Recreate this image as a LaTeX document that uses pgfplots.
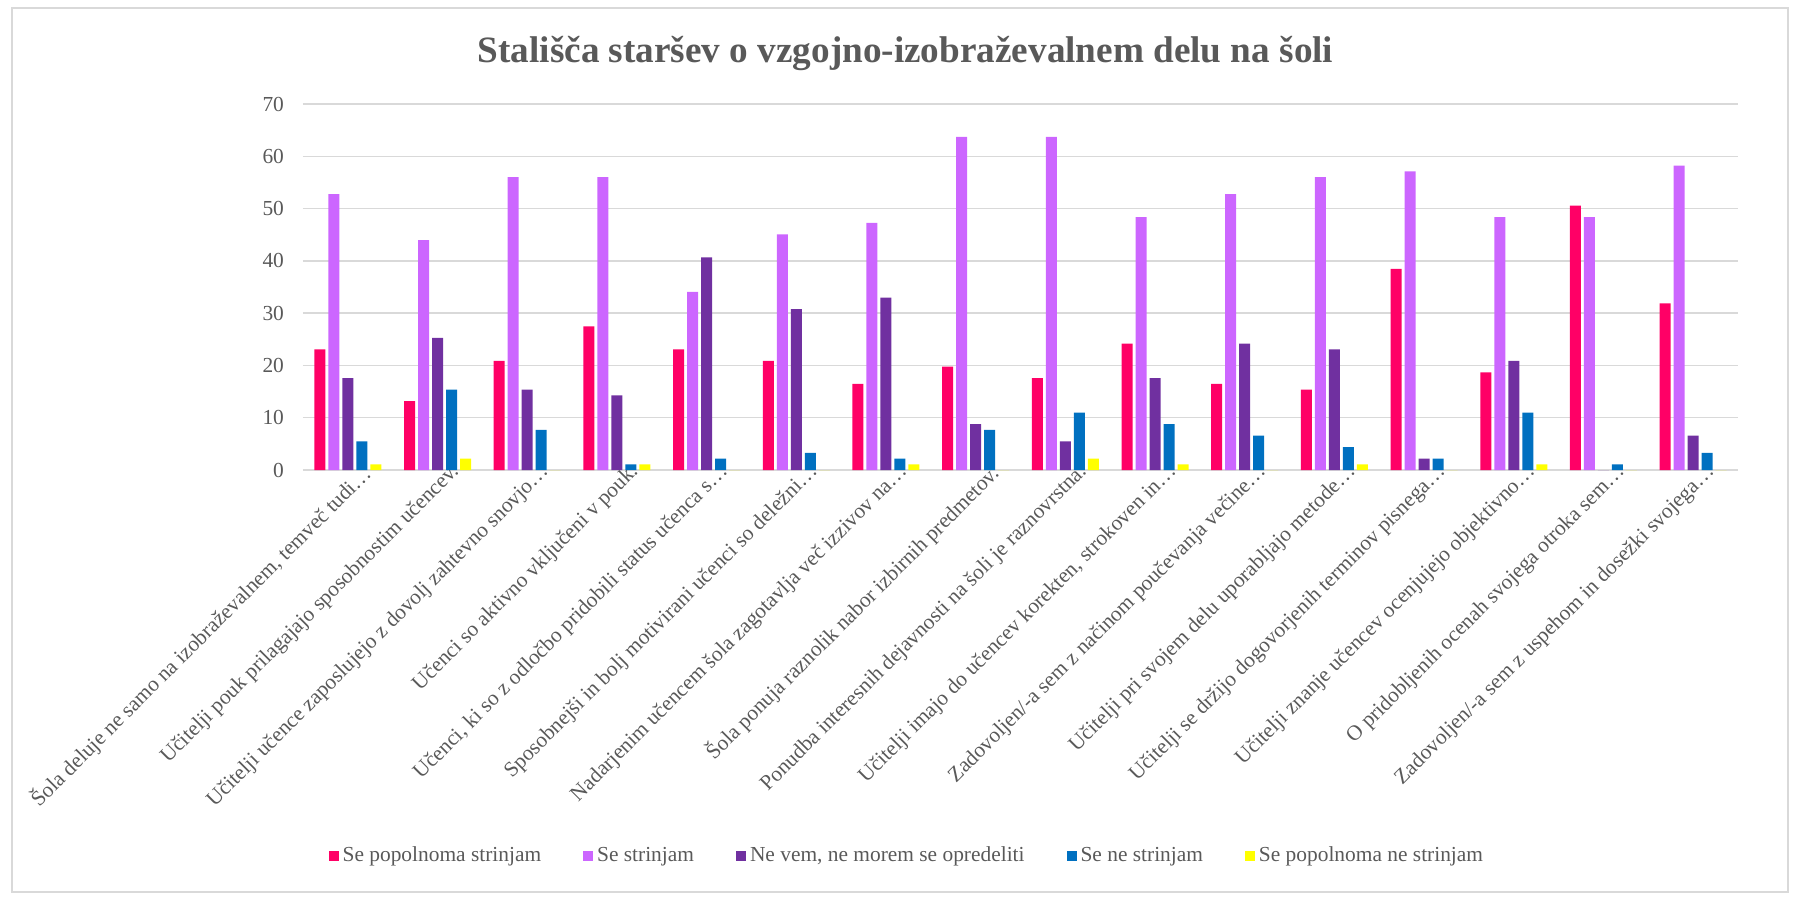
\documentclass[border=0pt]{standalone}
\usepackage{fontspec}
\setmainfont{Liberation Serif}
\usepackage{pgfplots}
\pgfplotsset{compat=1.18}

\definecolor{sPop}{HTML}{FF0066}
\definecolor{sStr}{HTML}{CC66FF}
\definecolor{sNev}{HTML}{7030A0}
\definecolor{sNe}{HTML}{0070C0}
\definecolor{sPne}{HTML}{FFFF00}
\definecolor{txt}{HTML}{595959}
\definecolor{gridc}{HTML}{D9D9D9}

\newcommand{\lblfont}{\fontsize{10.7pt}{12.8pt}\selectfont}

\begin{document}
\begin{tikzpicture}
\useasboundingbox (0,0) rectangle (897.5pt,448pt);
\draw[gridc, line width=0.75pt] (6pt,2pt) rectangle (894pt,444pt);

\begin{axis}[
    at={(151.5pt,213pt)}, anchor=south west,
    scale only axis,
    width=717.5pt, height=183pt,
    ybar=1.5pt, bar width=5.5pt,
    xmin=-0.5, xmax=15.5,
    ymin=0, ymax=70,
    ytick={0,10,...,70},
    xtick=data,
    xticklabels={
        {Šola deluje ne samo na izobraževalnem, temveč tudi…},
        {Učitelji pouk prilagajajo sposobnostim učencev.},
        {Učitelji učence zaposlujejo z dovolj zahtevno snovjo…},
        {Učenci so aktivno vključeni v pouk.},
        {Učenci, ki so z odločbo pridobili status učenca s…},
        {Sposobnejši in bolj motivirani učenci so deležni…},
        {Nadarjenim učencem šola zagotavlja več izzivov na…},
        {Šola ponuja raznolik nabor izbirnih predmetov.},
        {Ponudba interesnih dejavnosti na šoli je raznovrstna.},
        {Učitelji imajo do učencev korekten, strokoven in…},
        {Zadovoljen/-a sem z načinom poučevanja večine…},
        {Učitelji pri svojem delu uporabljajo metode…},
        {Učitelji se držijo dogovorjenih terminov pisnega…},
        {Učitelji znanje učencev ocenjujejo objektivno…},
        {O pridobljenih ocenah svojega otroka sem…},
        {Zadovoljen/-a sem z uspehom in dosežki svojega…}},
    x tick label style={rotate=45, anchor=north east, xshift=8pt,
        font=\lblfont, text=txt, inner sep=1pt},
    y tick label style={font=\lblfont, text=txt, xshift=-6pt},
    /pgf/number format/assume math mode=true,
    major tick length=0pt,
    axis line style={draw=none},
    ymajorgrids,
    grid style={gridc, line width=0.75pt},
    legend columns=5,
    legend style={at={(0.4215,-1.0546)}, anchor=center, draw=none,
        font=\lblfont, text=txt, fill=none,
        /tikz/every even column/.append style={column sep=19pt}},
    legend image code/.code={\fill[#1] (0pt,-2.6pt) rectangle (5pt,2.6pt);},
]
% Se popolnoma strinjam
\addplot[fill=sPop, draw=none] coordinates {
    (0,23.08) (1,13.19) (2,20.88) (3,27.47) (4,23.08) (5,20.88) (6,16.48) (7,19.78)
    (8,17.58) (9,24.18) (10,16.48) (11,15.38) (12,38.46) (13,18.68) (14,50.55) (15,31.87)};
% Se strinjam
\addplot[fill=sStr, draw=none] coordinates {
    (0,52.75) (1,43.96) (2,56.04) (3,56.04) (4,34.07) (5,45.05) (6,47.25) (7,63.74)
    (8,63.74) (9,48.35) (10,52.75) (11,56.04) (12,57.14) (13,48.35) (14,48.35) (15,58.24)};
% Ne vem, ne morem se opredeliti
\addplot[fill=sNev, draw=none] coordinates {
    (0,17.58) (1,25.27) (2,15.38) (3,14.29) (4,40.66) (5,30.77) (6,32.97) (7,8.79)
    (8,5.49) (9,17.58) (10,24.18) (11,23.08) (12,2.20) (13,20.88) (14,0) (15,6.59)};
% Se ne strinjam
\addplot[fill=sNe, draw=none] coordinates {
    (0,5.49) (1,15.38) (2,7.69) (3,1.10) (4,2.20) (5,3.30) (6,2.20) (7,7.69)
    (8,10.99) (9,8.79) (10,6.59) (11,4.40) (12,2.20) (13,10.99) (14,1.10) (15,3.30)};
% Se popolnoma ne strinjam
\addplot[fill=sPne, draw=none] coordinates {
    (0,1.10) (1,2.20) (2,0) (3,1.10) (4,0) (5,0) (6,1.10) (7,0)
    (8,2.20) (9,1.10) (10,0) (11,1.10) (12,0) (13,1.10) (14,0) (15,0)};
\legend{Se popolnoma strinjam, Se strinjam, {Ne vem, ne morem se opredeliti}, Se ne strinjam, Se popolnoma ne strinjam}
\end{axis}

\node[anchor=base, text=txt, font=\fontsize{18.6pt}{22pt}\selectfont\bfseries]
    at (452.75pt,416.5pt) {Stališča staršev o vzgojno-izobraževalnem delu na šoli};
\end{tikzpicture}
\end{document}
